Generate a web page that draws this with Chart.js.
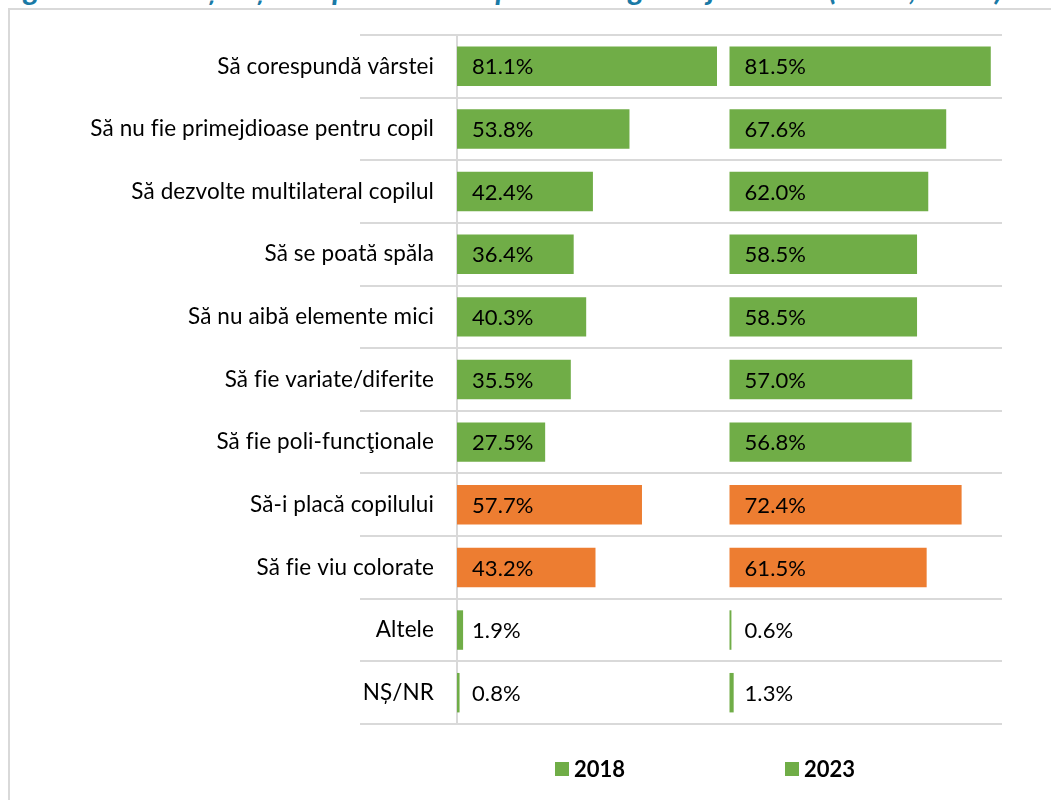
<!DOCTYPE html>
<html>
<head>
<meta charset="utf-8">
<script src="https://cdn.jsdelivr.net/npm/chart.js@4.4.1/dist/chart.umd.min.js"></script>
<style>
  html, body { margin: 0; padding: 0; background: #fff; overflow: hidden; }
  body { width: 1051px; height: 800px; position: relative; font-family: Lato, "Noto Sans", sans-serif; }
  #title {
    position: absolute; left: 0px; top: -27px; white-space: nowrap;
    font: italic bold 31px Lato, sans-serif; line-height: 1; color: #1a7aa6;
    font-variant-ligatures: none;
  }
  #frame {
    position: absolute; left: 8px; top: 8px; width: 1100px; height: 900px;
    border-left: 2px solid #d9d9d9; border-top: 2px solid #d9d9d9;
  }
  #wrap { position: absolute; left: 0; top: 0; width: 1051px; height: 800px; }
  .leg { position: absolute; top: 755px; display: flex; align-items: center; font: bold 22px Lato, sans-serif; color: #000; }
  .leg i { display: inline-block; width: 14px; height: 14px; background: #70ad47; margin-right: 5px; }
</style>
</head>
<body>
<div id="frame"></div>
<div id="title">Figura 16. Cunoștințe despre criteriile pentru alegerea jucăriilor (2018, 2023)</div>
<div id="wrap"><canvas id="chart"></canvas></div>
<div class="leg" style="left:555px"><i></i>2018</div>
<div class="leg" style="left:785px"><i></i>2023</div>
<script>
const categories = [
  "Să corespundă vârstei",
  "Să nu fie primejdioase pentru copil",
  "Să dezvolte multilateral copilul",
  "Să se poată spăla",
  "Să nu aibă elemente mici",
  "Să fie variate/diferite",
  "Să fie poli-funcţionale",
  "Să-i placă copilului",
  "Să fie viu colorate",
  "Altele",
  "NȘ/NR"
];
const values2018 = [81.1, 53.8, 42.4, 36.4, 40.3, 35.5, 27.5, 57.7, 43.2, 1.9, 0.8];
const values2023 = [81.5, 67.6, 62.0, 58.5, 58.5, 57.0, 56.8, 72.4, 61.5, 0.6, 1.3];
const highlighted = ["Să-i placă copilului", "Să fie viu colorate"];

// second panel starts at this value on the shared axis
const panelOffset = 85;
const green = "#70ad47";
const orange = "#ed7d31";
const colors = categories.map(c => highlighted.includes(c) ? orange : green);

const labelFont = "22px Lato, sans-serif";

// tiny letter spacing keeps "fi" from turning into a ligature
const noLigatures = {
  id: "noLigatures",
  beforeDraw(chart) { chart.ctx.letterSpacing = "0.1px"; }
};

// draws "81.1%" etc. just after the start of each bar
const valueLabels = {
  id: "valueLabels",
  afterDatasetsDraw(chart) {
    const ctx = chart.ctx;
    ctx.save();
    ctx.font = labelFont;
    ctx.fillStyle = "#000";
    ctx.textBaseline = "middle";
    ctx.textAlign = "left";
    chart.data.datasets.forEach((ds, i) => {
      chart.getDatasetMeta(i).data.forEach((bar, j) => {
        ctx.fillText(ds.raw[j].toFixed(1) + "%", bar.base + 15, bar.y + 1);
      });
    });
    ctx.restore();
  }
};

new Chart(document.getElementById("chart"), {
  type: "bar",
  data: {
    labels: categories,
    datasets: [
      {
        label: "2018",
        raw: values2018,
        data: values2018.map(v => [0, v]),
        backgroundColor: colors,
        grouped: false
      },
      {
        label: "2023",
        raw: values2023,
        data: values2023.map(v => [panelOffset, panelOffset + v]),
        backgroundColor: colors,
        grouped: false
      }
    ]
  },
  options: {
    indexAxis: "y",
    responsive: true,
    maintainAspectRatio: false,
    animation: false,
    layout: { padding: { top: 35, bottom: 76, left: 0, right: 49 } },
    categoryPercentage: 0.7,
    barPercentage: 0.9,
    plugins: {
      legend: { display: false },
      tooltip: { enabled: false }
    },
    scales: {
      x: { display: false, min: 0, max: 170 },
      y: {
        afterFit(scale) { scale.width = 457; },
        grid: {
          color: "#d9d9d9",
          lineWidth: 2,
          tickLength: 97,
          tickColor: "#d9d9d9",
          tickWidth: 2
        },
        border: { color: "#d9d9d9", width: 2 },
        ticks: {
          padding: -74,
          color: "#000",
          font: { family: "Lato, sans-serif", size: 22.5 }
        }
      }
    }
  },
  plugins: [noLigatures, valueLabels]
});
</script>
</body>
</html>
